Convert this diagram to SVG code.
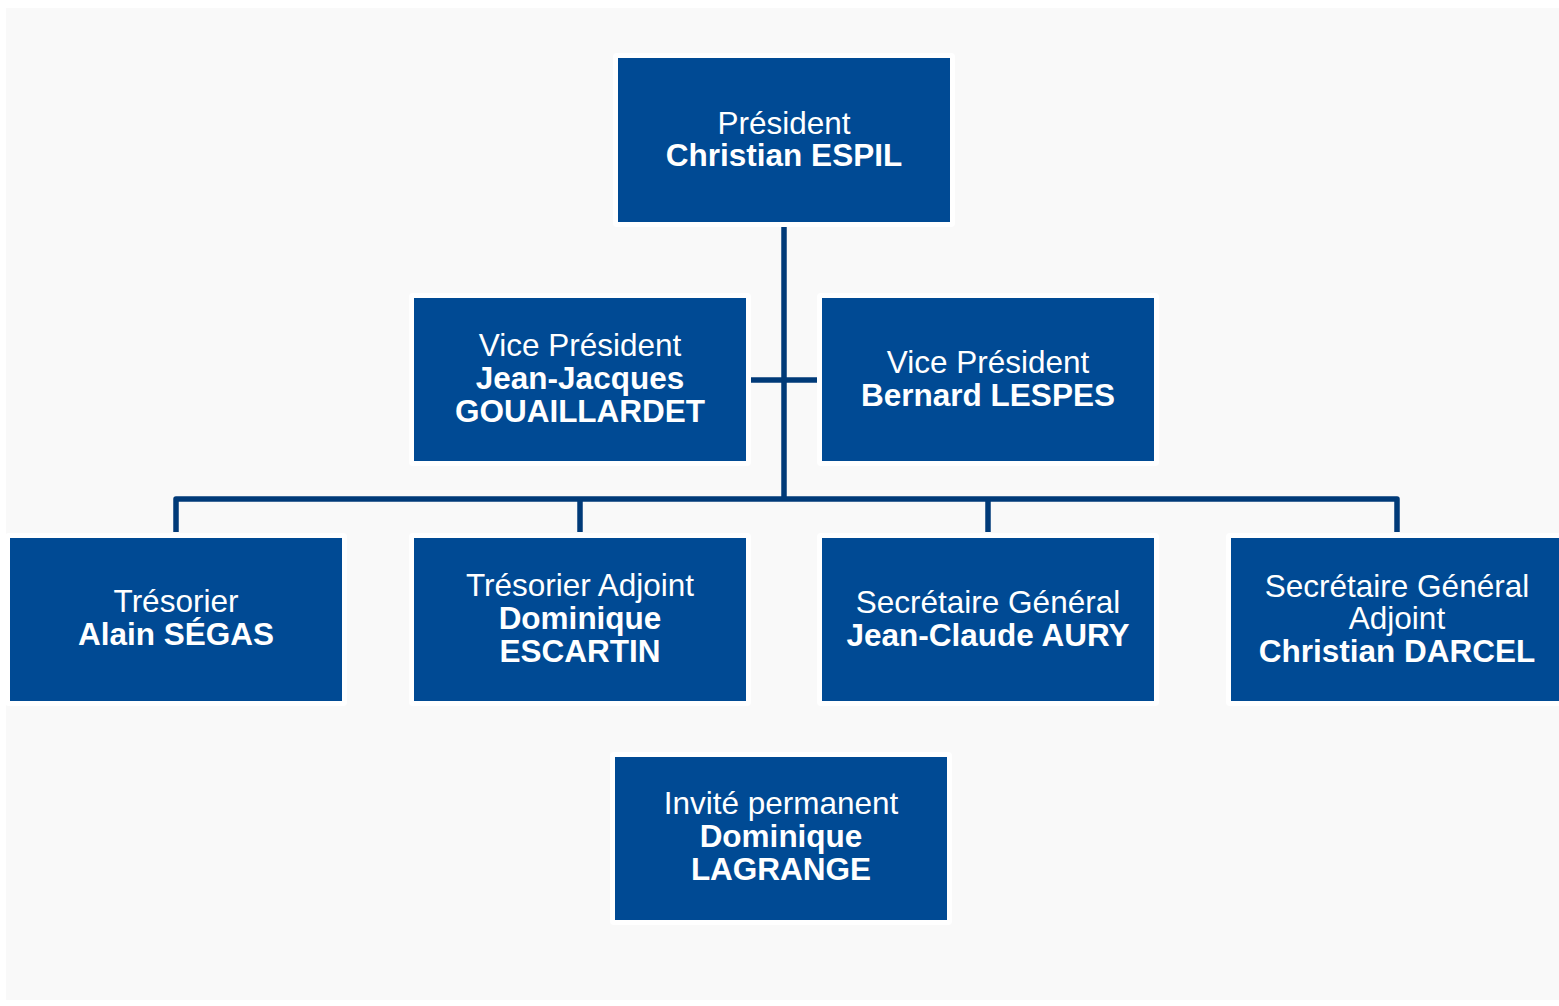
<svg xmlns="http://www.w3.org/2000/svg" width="1559" height="1006" viewBox="0 0 1559 1006">
<style>
.frame{fill:#ffffff}
.box{fill:#004a94}
.t{font-family:"Liberation Sans",Arial,sans-serif;font-size:31.5px;fill:#ffffff;text-anchor:middle}
.b{font-weight:bold}
.c{fill:none;stroke:#003a78;stroke-width:5.5;stroke-linejoin:round}
</style>
<rect x="0" y="0" width="1559" height="1006" fill="#ffffff"/>
<rect x="6" y="8" width="1553" height="992" fill="#f9f9f9"/>
<g id="connectors">
<path class="c" d="M784,227 V499"/>
<path class="c" d="M751,380 H817"/>
<path class="c" d="M176,532 V499 H1397 V532"/>
<path class="c" d="M580,499 V532"/>
<path class="c" d="M988,499 V532"/>
</g>
<g id="president">
<rect class="frame" x="613" y="53" width="342" height="174" rx="4"/>
<rect class="box" x="618" y="58" width="332" height="164"/>
<text class="t" x="784" y="134">Président</text>
<text class="t b" x="784" y="166">Christian ESPIL</text>
</g>
<g id="vp1">
<rect class="frame" x="409" y="293" width="342" height="173" rx="4"/>
<rect class="box" x="414" y="298" width="332" height="163"/>
<text class="t" x="580" y="356">Vice Président</text>
<text class="t b" x="580" y="389">Jean-Jacques</text>
<text class="t b" x="580" y="422">GOUAILLARDET</text>
</g>
<g id="vp2">
<rect class="frame" x="817" y="293" width="342" height="173" rx="4"/>
<rect class="box" x="822" y="298" width="332" height="163"/>
<text class="t" x="988" y="373">Vice Président</text>
<text class="t b" x="988" y="406">Bernard LESPES</text>
</g>
<g id="tresorier">
<rect class="frame" x="5" y="533" width="342" height="173" rx="4"/>
<rect class="box" x="10" y="538" width="332" height="163"/>
<text class="t" x="176" y="612">Trésorier</text>
<text class="t b" x="176" y="645">Alain SÉGAS</text>
</g>
<g id="tresorier-adjoint">
<rect class="frame" x="409" y="533" width="342" height="173" rx="4"/>
<rect class="box" x="414" y="538" width="332" height="163"/>
<text class="t" x="580" y="596">Trésorier Adjoint</text>
<text class="t b" x="580" y="629">Dominique</text>
<text class="t b" x="580" y="662">ESCARTIN</text>
</g>
<g id="secretaire">
<rect class="frame" x="817" y="533" width="342" height="173" rx="4"/>
<rect class="box" x="822" y="538" width="332" height="163"/>
<text class="t" x="988" y="613">Secrétaire Général</text>
<text class="t b" x="988" y="646">Jean-Claude AURY</text>
</g>
<g id="secretaire-adjoint">
<rect class="frame" x="1226" y="533" width="342" height="173" rx="4"/>
<rect class="box" x="1231" y="538" width="332" height="163"/>
<text class="t" x="1397" y="597">Secrétaire Général</text>
<text class="t" x="1397" y="629">Adjoint</text>
<text class="t b" x="1397" y="662">Christian DARCEL</text>
</g>
<g id="invite">
<rect class="frame" x="610" y="752" width="342" height="173" rx="4"/>
<rect class="box" x="615" y="757" width="332" height="163"/>
<text class="t" x="781" y="814">Invité permanent</text>
<text class="t b" x="781" y="847">Dominique</text>
<text class="t b" x="781" y="880">LAGRANGE</text>
</g>
</svg>
